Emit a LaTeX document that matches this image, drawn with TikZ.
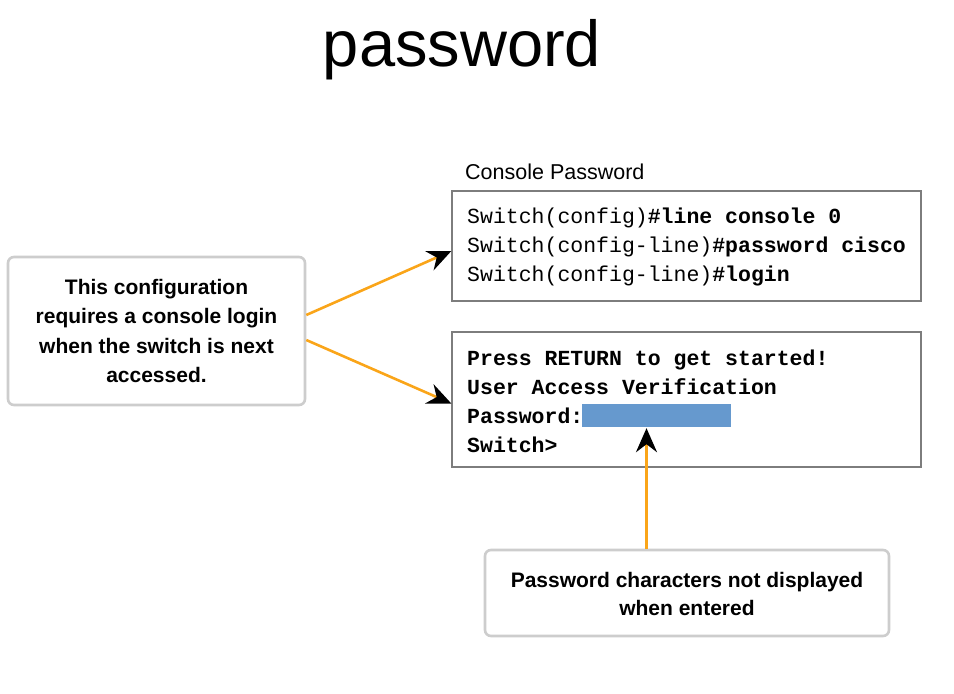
\documentclass[tikz,border=0pt]{standalone}
\usepackage{fontspec}
\setmainfont{Liberation Sans}
\setmonofont{Liberation Mono}
\usetikzlibrary{arrows.meta}

\definecolor{wireorange}{RGB}{250,165,25}
\definecolor{fieldblue}{RGB}{102,153,206}
\definecolor{termgray}{RGB}{125,125,125}
\definecolor{notegray}{RGB}{205,205,205}

\tikzset{
  termbox/.style={draw=termgray, line width=1.3pt, minimum width=469pt, inner sep=0pt},
  notebox/.style={draw=notegray, line width=2.6pt, rounded corners=6pt, fill=white, inner sep=0pt},
  notetext/.style={font=\fontsize{21}{29}\selectfont\bfseries, anchor=base},
  termline/.style={font=\fontsize{21.5}{26}\selectfont\ttfamily, anchor=base west, inner sep=0pt},
  pointer/.style={draw=wireorange, line width=2.6pt, -{Stealth[black, length=24pt, width=21pt, inset=8pt]}}
}

\begin{document}
\begin{tikzpicture}[x=1pt, y=-1pt]
  \useasboundingbox (0,0) rectangle (954,694);

  % heading
  \node[font=\fontsize{65}{78}\selectfont, anchor=base] (title) at (462,66) {password};
  \node[font=\fontsize{21.5}{26}\selectfont, anchor=base west, inner sep=0pt] (cfgtitle) at (465,179) {Console Password};

  % terminal boxes
  \node[termbox, minimum height=110pt] (cfg) at (686.5,246) {};
  \node[termbox, minimum height=135pt] (login) at (686.5,399.5) {};

  % console password commands
  \node[termline] (c1) at (467,223) {Switch(config)\textbf{\#line console 0}};
  \node[termline] (c2) at (467,252) {Switch(config-line)\textbf{\#password cisco}};
  \node[termline] (c3) at (467,281) {Switch(config-line)\textbf{\#login}};

  % login prompt
  \node[termline] (p1) at (467,365) {\textbf{Press RETURN to get started!}};
  \node[termline] (p2) at (467,394) {\textbf{User Access Verification}};
  \node[termline] (p3) at (467,423) {\textbf{Password:}};
  \node[termline] (p4) at (467,452) {\textbf{Switch>}};
  \node[fill=fieldblue, minimum width=149pt, minimum height=23pt, inner sep=0pt] (field) at (656.5,415.5) {};

  % notes
  \node[notebox, minimum width=297pt, minimum height=148pt] (note) at (156.5,331) {};
  \node[notetext] (n1) at (156.5,294) {This configuration};
  \node[notetext] (n2) at (156.5,323) {requires a console login};
  \node[notetext] (n3) at (156.5,353) {when the switch is next};
  \node[notetext] (n4) at (156.5,382) {accessed.};

  \node[notebox, minimum width=404pt, minimum height=86pt] (hint) at (687,593) {};
  \node[notetext] (h1) at (687,587) {Password characters not displayed};
  \node[notetext] (h2) at (687,615) {when entered};

  % arrows
  \draw[pointer] ([yshift=16pt]note.east) -- ([yshift=-5pt]cfg.west);
  \draw[pointer] ([yshift=-9pt]note.east) -- ([yshift=-4pt]login.west);
  \coordinate (tip) at ([xshift=-10pt, yshift=-1pt]field.south);
  \draw[pointer] (tip |- hint.north) -- (tip);

\end{tikzpicture}
\end{document}
